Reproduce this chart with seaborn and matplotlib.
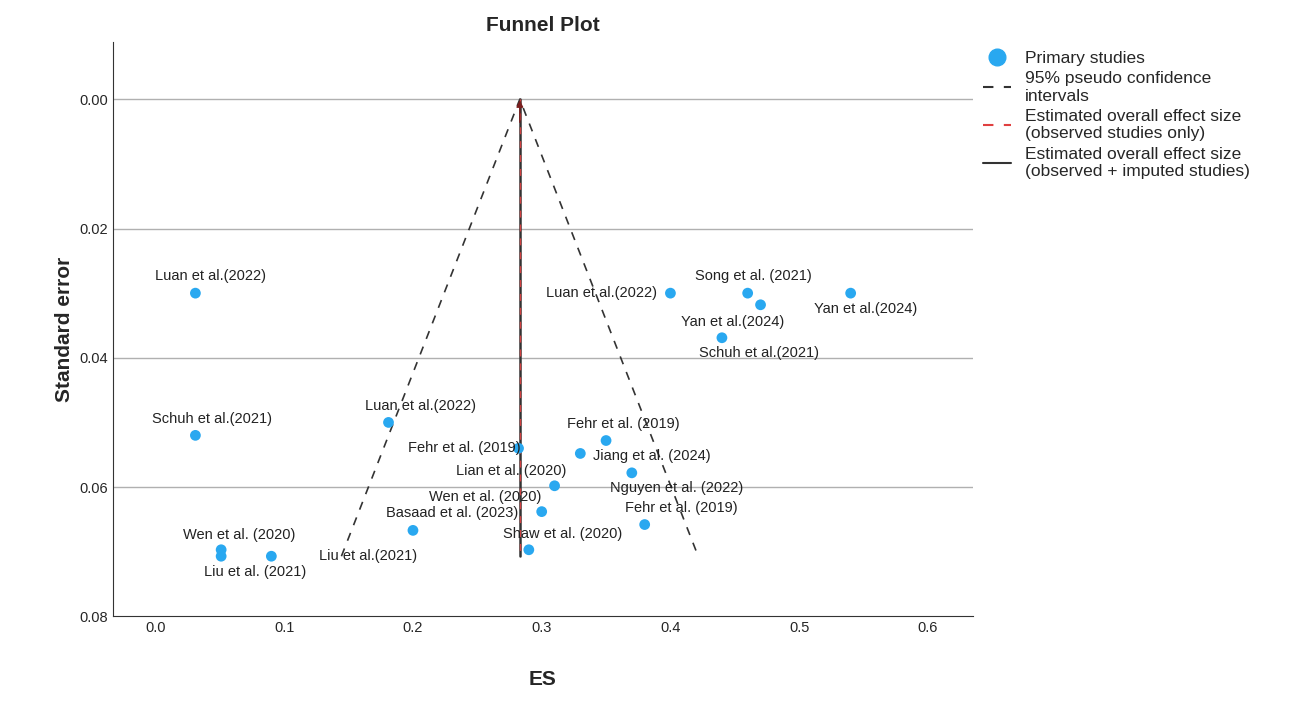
import numpy as np
import pandas as pd
import matplotlib.pyplot as plt
import seaborn as sns
from matplotlib.lines import Line2D

# study data
studies = ["Luan et al.(2022)", "Schuh et al.(2021)", "Luan et al.(2022)", "Fehr et al. (2019)",
           "Wen et al. (2020)", "Liu et al. (2021)", "Liu et al.(2021)", "Basaad et al. (2023)",
           "Shaw et al. (2020)", "Wen et al. (2020)", "Lian et al. (2020)", "Jiang et al. (2024)",
           "Fehr et al. (2019)", "Nguyen et al. (2022)", "Fehr et al. (2019)", "Luan et al.(2022)",
           "Song et al. (2021)", "Yan et al.(2024)", "Yan et al.(2024)", "Schuh et al.(2021)"]
es = [0.031, 0.031, 0.181, 0.282, 0.051, 0.051, 0.090, 0.200, 0.290, 0.300,
      0.310, 0.330, 0.350, 0.370, 0.380, 0.400, 0.460, 0.470, 0.540, 0.440]
se = [0.030, 0.052, 0.050, 0.054, 0.0697, 0.0707, 0.0707, 0.0667, 0.0697, 0.0638,
      0.0598, 0.0548, 0.0528, 0.0578, 0.0658, 0.030, 0.030, 0.0318, 0.030, 0.0369]
overall_es = 0.283
max_se = 0.0707

# label offsets in pixels (dx, dy; dy positive = up)
offsets = [(15, 17), (17, 16), (32, 16), (-54, 0), (18, 15), (34, -16), (97, 0), (39, 17),
           (34, 16), (-57, 15), (-43, 15), (71, -3), (17, 17), (45, -15), (37, 17), (-69, 0),
           (6, 17), (-28, -17), (15, -16), (37, -15)]

df = pd.DataFrame({"study": studies, "ES": es, "SE": se})

sns.set_style("white")
plt.rcParams['font.family'] = ['Liberation Sans', 'DejaVu Sans']
fig = plt.figure(figsize=(12.99, 7.06), dpi=100)
ax = fig.add_axes([0.087, 0.127, 0.662, 0.813])

for yv in [0.0, 0.02, 0.04, 0.06]:
    ax.axhline(yv, color="#b0b0b0", lw=1, zorder=0)

ax.plot([overall_es - 1.96 * max_se, overall_es, overall_es + 1.96 * max_se],
        [max_se, 0, max_se], ls=(0, (5, 5)), color="#333333", lw=1.2)
ax.plot([overall_es, overall_es], [0, max_se], color="#333333", lw=1.8)
ax.plot([overall_es, overall_es], [0, max_se], color="#d04040", lw=1.0, ls=(0, (5, 5)))
ax.annotate("", xy=(overall_es, -0.0003), xytext=(overall_es, 0.004),
            arrowprops=dict(arrowstyle="-|>", color="#7a1e1e", lw=1))

sns.scatterplot(data=df, x="ES", y="SE", ax=ax, color="#29a8f0", s=60, edgecolor="none", zorder=3)

for name, x, y, (dx, dy) in zip(studies, es, se, offsets):
    ax.annotate(name, (x, y), xytext=(dx, dy), textcoords="offset pixels",
                ha="center", va="center", fontsize=10.5, color="#222222")

ax.set_xlim(-0.033, 0.635)
ax.set_ylim(0.08, -0.0088)
ax.set_xticks(np.arange(0, 0.61, 0.1))
ax.set_xticklabels(["0.0", "0.1", "0.2", "0.3", "0.4", "0.5", "0.6"])
ax.set_yticks([0.0, 0.02, 0.04, 0.06, 0.08])
ax.set_yticklabels(["0.00", "0.02", "0.04", "0.06", "0.08"])
ax.tick_params(labelsize=10.5, length=0)
ax.set_xlabel("ES", fontsize=15, fontweight="bold", labelpad=25)
ax.set_ylabel("Standard error", fontsize=15, fontweight="bold")
ax.set_title("Funnel Plot", fontsize=15, fontweight="bold", pad=8)
for s in ["top", "right"]:
    ax.spines[s].set_visible(False)
for s in ["left", "bottom"]:
    ax.spines[s].set_color("#333333")

handles = [
    Line2D([], [], marker="o", ls="none", color="#29a8f0", markersize=12),
    Line2D([], [], ls=(0, (5, 5)), color="#333333"),
    Line2D([], [], ls=(0, (5, 5)), color="#e04040"),
    Line2D([], [], color="#333333"),
]
labels = ["Primary studies", "95% pseudo confidence\nintervals",
          "Estimated overall effect size\n(observed studies only)",
          "Estimated overall effect size\n(observed + imputed studies)"]
fig.legend(handles, labels, loc="upper left", bbox_to_anchor=(0.745, 0.95), frameon=False,
           fontsize=12.5, handlelength=1.6, labelspacing=0.3)

fig.savefig("out.png", dpi=100)
